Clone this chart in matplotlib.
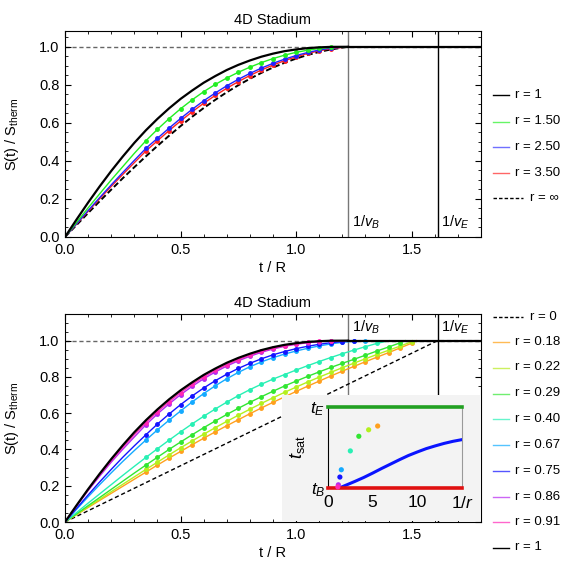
import numpy as np
import matplotlib
matplotlib.use('Agg')
import matplotlib.pyplot as plt
from matplotlib.lines import Line2D
from matplotlib.ticker import MultipleLocator, FormatStrFormatter

plt.rcParams['font.family'] = ['Liberation Sans', 'DejaVu Sans']
plt.rcParams['mathtext.fontset'] = 'custom'
plt.rcParams['mathtext.rm'] = 'Liberation Sans'
plt.rcParams['mathtext.it'] = 'Liberation Sans:italic'
plt.rcParams['mathtext.bf'] = 'Liberation Sans:bold'

# ---------------- data ----------------
t_grid = [0.00, 0.05, 0.10, 0.15, 0.20, 0.25, 0.30, 0.35, 0.40, 0.45,
          0.50, 0.55, 0.60, 0.65, 0.70, 0.75, 0.80, 0.85, 0.90, 0.95,
          1.00, 1.05, 1.10, 1.15, 1.20, 1.25, 1.30, 1.35, 1.40, 1.45,
          1.50, 1.55]
inv_vB = 1.2247
inv_vE = 1.6120

# top panel (r >= 1)
S_r1 = [0, 0.092, 0.181, 0.266, 0.347, 0.423, 0.495, 0.561, 0.621, 0.676,
        0.726, 0.770, 0.811, 0.846, 0.878, 0.905, 0.928, 0.948, 0.964, 0.977,
        0.986, 0.993, 0.997, 0.9995]
S_r150 = [0, 0.077, 0.153, 0.227, 0.300, 0.370, 0.440, 0.506, 0.566, 0.622,
          0.674, 0.721, 0.764, 0.802, 0.836, 0.866, 0.893, 0.917, 0.938, 0.956,
          0.971, 0.982, 0.991, 0.997]
S_r250 = [0, 0.070, 0.139, 0.207, 0.274, 0.339, 0.403, 0.466, 0.519, 0.572,
          0.623, 0.671, 0.716, 0.757, 0.795, 0.829, 0.860, 0.888, 0.913, 0.935,
          0.954, 0.970, 0.983, 0.993]
S_r350 = [0, 0.068, 0.135, 0.201, 0.266, 0.329, 0.391, 0.452, 0.506, 0.559,
          0.610, 0.658, 0.703, 0.744, 0.782, 0.817, 0.849, 0.878, 0.904, 0.927,
          0.947, 0.965, 0.979, 0.990]
S_rinf = [0, 0.063, 0.126, 0.188, 0.249, 0.309, 0.367, 0.424, 0.479, 0.532,
          0.583, 0.632, 0.678, 0.721, 0.761, 0.798, 0.832, 0.863, 0.891, 0.916,
          0.938, 0.957, 0.973, 0.986]

# bottom panel (r <= 1)
S_r091 = [0, 0.090, 0.177, 0.260, 0.338, 0.412, 0.482, 0.548, 0.608, 0.663,
          0.714, 0.759, 0.800, 0.836, 0.868, 0.896, 0.920, 0.941, 0.958, 0.972,
          0.982, 0.990, 0.996, 0.999]
S_r086 = [0, 0.088, 0.173, 0.253, 0.330, 0.401, 0.469, 0.536, 0.596, 0.651,
          0.702, 0.748, 0.790, 0.827, 0.860, 0.889, 0.914, 0.936, 0.954, 0.969,
          0.980, 0.989, 0.995, 0.999]
S_r075 = [0, 0.075, 0.149, 0.221, 0.290, 0.357, 0.420, 0.481, 0.540, 0.595,
          0.647, 0.695, 0.739, 0.779, 0.815, 0.847, 0.875, 0.900, 0.922, 0.940,
          0.956, 0.969, 0.980, 0.989, 0.995, 0.999]
S_r067 = [0, 0.070, 0.139, 0.206, 0.271, 0.334, 0.394, 0.452, 0.508, 0.561,
          0.612, 0.662, 0.708, 0.751, 0.790, 0.825, 0.856, 0.883, 0.906, 0.926,
          0.943, 0.958, 0.971, 0.982, 0.991, 0.997, 0.9995]
S_r040 = [0, 0.052, 0.104, 0.155, 0.206, 0.257, 0.307, 0.356, 0.404, 0.451,
          0.497, 0.541, 0.583, 0.623, 0.661, 0.697, 0.730, 0.760, 0.788, 0.813,
          0.838, 0.862, 0.885, 0.907, 0.928, 0.948, 0.967, 0.985]
S_r029 = [0, 0.045, 0.090, 0.135, 0.180, 0.225, 0.270, 0.314, 0.357, 0.400,
          0.441, 0.481, 0.520, 0.557, 0.593, 0.627, 0.660, 0.691, 0.721, 0.750,
          0.777, 0.803, 0.828, 0.852, 0.875, 0.897, 0.920, 0.943, 0.965, 0.988]
S_r022 = [0, 0.042, 0.084, 0.125, 0.167, 0.208, 0.249, 0.290, 0.330, 0.370,
          0.409, 0.447, 0.484, 0.520, 0.555, 0.589, 0.622, 0.654, 0.685, 0.715,
          0.744, 0.772, 0.799, 0.825, 0.851, 0.876, 0.900, 0.924, 0.947, 0.970,
          0.994]
S_r018 = [0, 0.040, 0.080, 0.119, 0.158, 0.197, 0.236, 0.275, 0.314, 0.352,
          0.389, 0.426, 0.462, 0.497, 0.531, 0.564, 0.597, 0.629, 0.660, 0.690,
          0.720, 0.749, 0.777, 0.805, 0.832, 0.858, 0.884, 0.909, 0.934, 0.960,
          0.986]
S_r0_t = [0.0, inv_vE]
S_r0 = [0.0, 1.0]

# saturation times (also plotted in inset)
r_low = [0.18, 0.22, 0.29, 0.40, 0.67, 0.75, 0.86, 0.91]
inv_r_low = [5.56, 4.55, 3.45, 2.50, 1.49, 1.33, 1.16, 1.10]
t_sat_low = [1.521, 1.503, 1.472, 1.402, 1.312, 1.277, 1.240, 1.230]
series_low = [S_r018, S_r022, S_r029, S_r040, S_r067, S_r075, S_r086, S_r091]
labels_low = ['r = 0.18', 'r = 0.22', 'r = 0.29', 'r = 0.40', 'r = 0.67',
              'r = 0.75', 'r = 0.86', 'r = 0.91']
colors_low = ['#ffa01e', '#b4f01e', '#32e632', '#28f0b4', '#14aaff',
              '#1414ff', '#b428f0', '#ff28b4']
legcol_low = ['#ffbb55', '#ccf060', '#70ee70', '#66f5cc', '#55c4ff',
              '#5555ff', '#cc66f5', '#ff66cc']

series_high = [S_r150, S_r250, S_r350]
labels_high = ['r = 1.50', 'r = 2.50', 'r = 3.50']
colors_high = ['#22ee22', '#2222ff', '#ff2222']
legcol_high = ['#66f566', '#7070ff', '#ff6666']

# inset curve (1/r, t_sat)
inset_x = [1.0, 1.5, 2, 3, 4, 5, 6, 7, 8, 9, 10, 11, 12, 13, 14, 15]
inset_t = [1.225, 1.229, 1.238, 1.256, 1.275, 1.296, 1.318, 1.339, 1.360,
           1.380, 1.397, 1.413, 1.426, 1.438, 1.448, 1.456]

# ---------------- figure ----------------
W, H = 574, 569
fig = plt.figure(figsize=(W / 100, H / 100), dpi=100)


def px_axes(l, t, r, b):
    return fig.add_axes([l / W, 1 - b / H, (r - l) / W, (b - t) / H])


def style(ax, ymax):
    ax.set_xlim(0, 1.8)
    ax.set_ylim(0, ymax)
    ax.xaxis.set_major_locator(MultipleLocator(0.5))
    ax.xaxis.set_minor_locator(MultipleLocator(0.1))
    ax.yaxis.set_major_locator(MultipleLocator(0.2))
    ax.yaxis.set_minor_locator(MultipleLocator(0.05))
    ax.xaxis.set_major_formatter(FormatStrFormatter('%.1f'))
    ax.yaxis.set_major_formatter(FormatStrFormatter('%.1f'))
    ax.tick_params(which='both', direction='in', top=True, right=True,
                   labelsize=10.5, pad=4)
    ax.tick_params(which='major', length=4, width=0.8)
    ax.tick_params(which='minor', length=2, width=0.6)
    for s in ax.spines.values():
        s.set_linewidth(0.8)
    ax.set_title('4D Stadium', fontsize=10.5, pad=5)
    ax.set_xlabel('t / R', fontsize=10.5, labelpad=3)
    ax.set_ylabel(r'S(t) / S$_{\mathrm{therm}}$', fontsize=10.5)
    ax.yaxis.set_label_coords(-0.105, 0.5)
    ax.axhline(1.0, color='#666666', lw=1.0, ls=(0, (3, 2)), zorder=1)
    ax.axvline(inv_vB, color='#777777', lw=1.0, zorder=1)
    ax.axvline(inv_vE, color='black', lw=1.0, zorder=1)


def curve(ax, vals, tsat, color, lw=1.0, marker=True, ls='-', z=3):
    n = len(vals)
    x = t_grid[:n] + [tsat]
    y = vals + [1.0]
    ax.plot(x, y, color=color, lw=lw, ls=ls, zorder=z)
    if marker:
        ax.plot(t_grid[7:n], vals[7:], ls='none', marker='o', ms=2.5,
                color=color, zorder=z)


# ---- top panel ----
ax1 = px_axes(65, 31, 481, 237)
style(ax1, 1.083)
curve(ax1, S_rinf, inv_vB, 'black', lw=1.4, marker=False, ls=(0, (3, 1.5)), z=3)
for vals, col in zip(series_high[::-1], colors_high[::-1]):
    curve(ax1, vals, inv_vB, col)
curve(ax1, S_r1, inv_vB, 'black', lw=1.6, marker=False, z=4)
ax1.plot([inv_vB, 1.8], [1.0, 1.0], color='black', lw=1.6, zorder=4)
ax1.text(inv_vB + 0.015, 0.075, r'$1/v_B$', fontsize=10.5, va='center')
ax1.text(inv_vE + 0.015, 0.075, r'$1/v_E$', fontsize=10.5, va='center')

# ---- bottom panel ----
ax2 = px_axes(65, 314, 481, 522)
style(ax2, 1.147)
ax2.plot(S_r0_t + [1.8], S_r0 + [1.0], color='black', lw=1.0,
         ls=(0, (3, 2)), zorder=3)
for vals, ts, col in zip(series_low, t_sat_low, colors_low):
    curve(ax2, vals, ts, col)
curve(ax2, S_r1, inv_vB, 'black', lw=1.6, marker=False, z=4)
ax2.plot([inv_vB, 1.8], [1.0, 1.0], color='black', lw=1.6, zorder=4)
ax2.text(inv_vB + 0.015, 1.075, r'$1/v_B$', fontsize=10.5, va='center')
ax2.text(inv_vE + 0.015, 1.075, r'$1/v_E$', fontsize=10.5, va='center')

# ---- inset ----
bx = px_axes(282, 395, 481, 521)
bx.set_facecolor('#f3f3f3')
bx.set_xticks([])
bx.set_yticks([])
for s in bx.spines.values():
    s.set_visible(False)

ins = px_axes(328, 407, 462, 488)
ins.set_facecolor('none')
ins.set_xlim(0, 15)
ins.set_ylim(inv_vB, inv_vE)
ins.plot(inset_x, inset_t, color='#0a14ff', lw=2.2, zorder=3)
ins.axhline(inv_vE, color='#22a022', lw=2.6, clip_on=False, zorder=4)
ins.axhline(inv_vB, color='#e01010', lw=2.6, clip_on=False, zorder=4)
ins.scatter(inv_r_low, t_sat_low, c=colors_low, s=14, zorder=5,
            clip_on=False, linewidths=0)
ins.spines['left'].set_color('black')
ins.spines['right'].set_color('#999999')
ins.spines['top'].set_visible(False)
ins.spines['bottom'].set_visible(False)
ins.set_xticks([0, 5, 10, 15])
ins.set_xticklabels(['0', '5', '10', r'$1/r$'])
ins.set_yticks([inv_vB, inv_vE])
ins.set_yticklabels([r'$t_B$', r'$t_E$'])
ins.tick_params(length=0, labelsize=12.5)
ins.tick_params(axis='x', pad=5)
ins.tick_params(axis='y', pad=2)
ins.set_ylabel(r'$t_{\mathrm{sat}}$', fontsize=13, labelpad=2)

# ---- legends (drawn manually) ----
def leg_entry(y, color, label, dashed=False, lw=1.0):
    if dashed:
        x0, x1, xt = 493, 523, 530
        ls = (0, (2.5, 1.5))
    else:
        x0, x1, xt = 493, 509, 515
        ls = '-'
    fig.add_artist(Line2D([x0 / W, x1 / W], [1 - y / H, 1 - y / H],
                          color=color, lw=lw, ls=ls))
    fig.text(xt / W, 1 - y / H, label, fontsize=9.5, va='center', ha='left')


top_rows = [95, 121.5, 147, 172.5, 198]
leg_entry(top_rows[0], 'black', 'r = 1')
for y, c, lab in zip(top_rows[1:4], legcol_high, labels_high):
    leg_entry(y, c, lab)
leg_entry(top_rows[4], 'black', 'r = \u221e', dashed=True)

bot_rows = [316.5, 342, 367.5, 393.5, 419, 445, 470.5, 496.5, 522, 547.5]
leg_entry(bot_rows[0], 'black', 'r = 0', dashed=True)
for y, c, lab in zip(bot_rows[1:9], legcol_low, labels_low):
    leg_entry(y, c, lab)
leg_entry(bot_rows[9], 'black', 'r = 1')

fig.savefig('out.png', dpi=100)
